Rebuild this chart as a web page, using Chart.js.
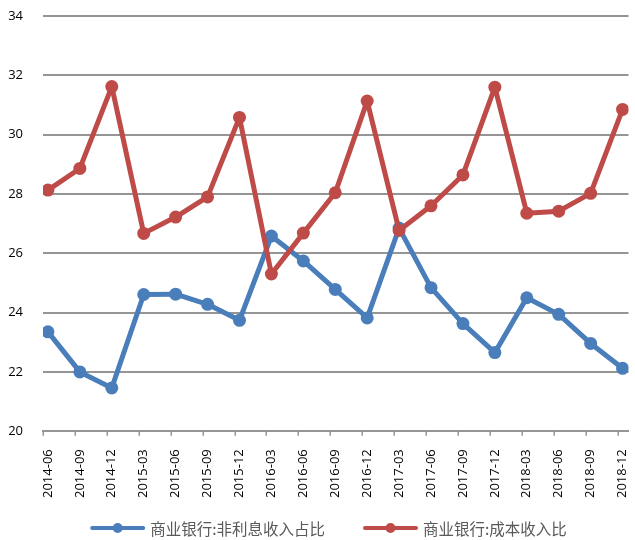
<!DOCTYPE html>
<html>
<head>
<meta charset="utf-8">
<script src="https://cdn.jsdelivr.net/npm/chart.js@4/dist/chart.umd.min.js"></script>
<style>
  html, body { margin: 0; padding: 0; background: #ffffff; }
  #wrap { width: 635px; height: 540px; }
</style>
</head>
<body>
<div id="wrap"><canvas id="c" width="635" height="540"></canvas></div>
<script>
// Quarterly periods
const periods = ['2014-06', '2014-09', '2014-12', '2015-03', '2015-06', '2015-09', '2015-12',
  '2016-03', '2016-06', '2016-09', '2016-12', '2017-03', '2017-06', '2017-09', '2017-12',
  '2018-03', '2018-06', '2018-09', '2018-12'];

// 商业银行:非利息收入占比 (%)
const nonInterestShare = [23.35, 22.00, 21.46, 24.61, 24.62, 24.28, 23.74, 26.58, 25.74, 24.78,
  23.82, 26.85, 24.84, 23.63, 22.65, 24.50, 23.94, 22.96, 22.12];

// 商业银行:成本收入比 (%)
const costIncomeRatio = [28.13, 28.86, 31.62, 26.67, 27.22, 27.90, 30.58, 25.30, 26.68, 28.04,
  31.13, 26.77, 27.60, 28.64, 31.60, 27.35, 27.42, 28.02, 30.85];

// Value axis tick labels
const yTicks = [20, 22, 24, 26, 28, 30, 32, 34];

const seriesNames = ['商业银行:非利息收入占比', '商业银行:成本收入比'];

const BLUE = '#4a7ebb';
const RED = '#be4b48';
const GRID = '#959595';
const TICK_SHIFT = 0.155;   // tick marks sit a little left of each category point
const NUM_FONT = { family: '"Open Sans", "DejaVu Sans", sans-serif', size: 13 };

// Short tick marks under the category axis
const axisTicks = {
  id: 'axisTicks',
  afterDraw(chart) {
    const xs = chart.scales.x;
    const ctx = chart.ctx;
    const y0 = chart.chartArea.bottom;
    ctx.save();
    ctx.strokeStyle = GRID;
    ctx.lineWidth = 1.5;
    periods.forEach((_, i) => {
      const px = Math.round(xs.getPixelForValue(i - TICK_SHIFT)) + 0.25;
      ctx.beginPath();
      ctx.moveTo(px, y0);
      ctx.lineTo(px, y0 + 4.5);
      ctx.stroke();
    });
    ctx.restore();
  }
};

// Legend: a line segment with a marker, followed by the series name
const lineLegend = {
  id: 'lineLegend',
  afterDraw(chart) {
    const ctx = chart.ctx;
    const LINE_W = 55, TEXT_GAP = 5, ITEM_GAP = 38;
    ctx.save();
    ctx.font = '15.5px "Noto Sans CJK SC", sans-serif';
    const items = chart.data.datasets.map(ds => ({
      label: ds.label, color: ds.borderColor, w: ctx.measureText(ds.label).width
    }));
    const total = items.reduce((s, it) => s + LINE_W + TEXT_GAP + it.w, 0) + ITEM_GAP * (items.length - 1);
    let x = chart.width / 2 + 11 - total / 2;
    const y = chart.height - 12;
    items.forEach(it => {
      ctx.strokeStyle = it.color;
      ctx.lineWidth = 4;
      ctx.lineCap = 'round';
      ctx.beginPath();
      ctx.moveTo(x + 2, y);
      ctx.lineTo(x + LINE_W - 2, y);
      ctx.stroke();
      ctx.fillStyle = it.color;
      ctx.beginPath();
      ctx.arc(x + LINE_W / 2, y, 5, 0, Math.PI * 2);
      ctx.fill();
      ctx.fillStyle = '#595959';
      ctx.textBaseline = 'middle';
      ctx.textAlign = 'left';
      ctx.fillText(it.label, x + LINE_W + TEXT_GAP, y + 1);
      x += LINE_W + TEXT_GAP + it.w + ITEM_GAP;
    });
    ctx.restore();
  }
};

const toPoints = arr => arr.map((v, i) => ({ x: i, y: v }));

const lineStyle = color => ({
  borderColor: color,
  backgroundColor: color,
  pointBackgroundColor: color,
  borderWidth: 5,
  borderJoinStyle: 'round',
  borderCapStyle: 'round',
  pointRadius: 6.5,
  pointBorderWidth: 0,
  tension: 0
});

new Chart(document.getElementById('c'), {
  type: 'line',
  data: {
    datasets: [
      Object.assign({ label: seriesNames[0], data: toPoints(nonInterestShare), order: 1 }, lineStyle(BLUE)),
      Object.assign({ label: seriesNames[1], data: toPoints(costIncomeRatio), order: 0 }, lineStyle(RED))
    ]
  },
  options: {
    responsive: false,
    animation: false,
    devicePixelRatio: 1,
    layout: { padding: { left: 8, top: 16, right: 0, bottom: 42 } },
    plugins: {
      legend: { display: false },
      tooltip: { enabled: false }
    },
    scales: {
      x: {
        type: 'linear',
        min: -TICK_SHIFT,
        max: periods.length - 1 + 0.186,
        afterBuildTicks(scale) {
          scale.ticks = periods.map((_, i) => ({ value: i }));
        },
        afterFit(scale) {
          scale.paddingLeft = 0;
          scale.paddingRight = 0;
          scale.height -= scale.options.ticks.padding;
        },
        grid: { display: false },
        border: { display: true, color: GRID, width: 2 },
        ticks: {
          autoSkip: false,
          maxRotation: 90,
          minRotation: 90,
          padding: 10,
          color: '#000000',
          font: NUM_FONT,
          callback: v => periods[v]
        }
      },
      y: {
        min: yTicks[0],
        max: yTicks[yTicks.length - 1],
        afterBuildTicks(scale) {
          scale.ticks = yTicks.map(v => ({ value: v }));
        },
        afterFit(scale) {
          scale.width = 35;
          scale.paddingTop = 0;
          scale.paddingBottom = 0;
        },
        grid: { color: GRID, lineWidth: 2, drawTicks: false },
        border: { display: false },
        ticks: {
          padding: 20,
          color: '#000000',
          font: NUM_FONT
        }
      }
    }
  },
  plugins: [axisTicks, lineLegend]
});
</script>
</body>
</html>
